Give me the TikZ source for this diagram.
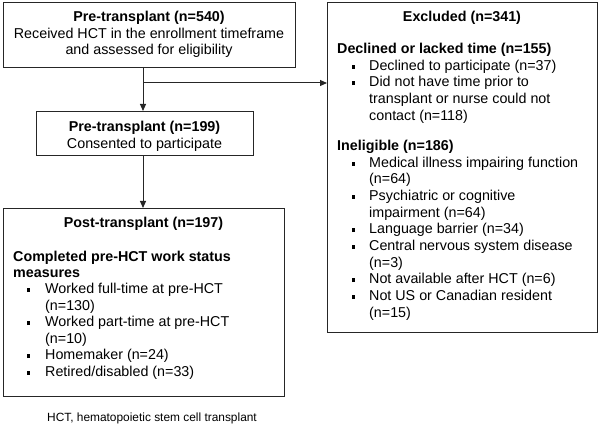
\documentclass[tikz,border=0pt]{standalone}
\usepackage{fontspec}
\setmainfont{Liberation Sans}
\usetikzlibrary{arrows.meta}
\newcommand\sqbul{\rule[1.8pt]{3.2pt}{3.8pt}}
\tikzset{
  box/.style={draw=black!85, line width=1.1pt, rectangle, inner sep=0pt, anchor=north west},
  txt/.style={inner sep=0pt, anchor=base west, font=\fontsize{14.3}{16.7}\selectfont},
  ctxt/.style={txt, anchor=base},
  bul/.style={inner sep=0pt, anchor=base west},
  arr/.style={line width=1pt, draw=black!85, -{Triangle[length=7pt,width=6pt]}},
}
\begin{document}
\begin{tikzpicture}[x=1pt,y=-1pt]
\useasboundingbox (0,0) rectangle (600,427);
% boxes
\node[box, minimum width=292pt, minimum height=65pt] (b1) at (3,2) {};
\node[box, minimum width=217pt, minimum height=44pt] (b2) at (36,111) {};
\node[box, minimum width=281pt, minimum height=188pt] (b3) at (3,208) {};
\node[box, minimum width=270pt, minimum height=330pt] (ex) at (327,2) {};
% box 1 text
\node[ctxt] (t1a) at (149,21.5) {\bfseries Pre-transplant (n=540)};
\node[ctxt] (t1b) at (149,38.2) {Received HCT in the enrollment timeframe};
\node[ctxt] (t1c) at (149,54.9) {and assessed for eligibility};
% box 2 text
\node[ctxt] (t2a) at (144.5,132) {\bfseries Pre-transplant (n=199)};
\node[ctxt] (t2b) at (144.5,148.5) {Consented to participate};
% box 3 text
\node[ctxt] (t3a) at (143.5,228) {\bfseries Post-transplant (n=197)};
\node[txt] (t3b) at (13,262) {\bfseries Completed pre-HCT work status};
\node[txt] (t3c) at (13,278) {\bfseries measures};
\foreach \n/\y in {p1/294, p2/327, p3/360, p4/376.5}
  \node[bul] (b\n) at (27,\y) {\sqbul};
\node[txt] (t3d) at (45,294) {Worked full-time at pre-HCT};
\node[txt] (t3e) at (45,310.5) {(n=130)};
\node[txt] (t3f) at (45,327) {Worked part-time at pre-HCT};
\node[txt] (t3g) at (45,343.5) {(n=10)};
\node[txt] (t3h) at (45,360) {Homemaker (n=24)};
\node[txt] (t3i) at (45,376.5) {Retired/disabled (n=33)};
% excluded text
\node[ctxt] (e0) at (462,22) {\bfseries Excluded (n=341)};
\node[txt] (e1) at (337,54) {\bfseries Declined or lacked time (n=155)};
\foreach \n/\y in {q1/70.5, q2/87, q3/167.5, q4/200.5, q5/234, q6/251, q7/284, q8/301}
  \node[bul] (b\n) at (352,\y) {\sqbul};
\node[txt] (e2) at (369,70.5) {Declined to participate (n=37)};
\node[txt] (e3) at (369,87) {Did not have time prior to};
\node[txt] (e4) at (369,103.5) {transplant or nurse could not};
\node[txt] (e5) at (369,120.5) {contact (n=118)};
\node[txt] (e6) at (337,151) {\bfseries Ineligible (n=186)};
\node[txt] (e7) at (369,167.5) {Medical illness impairing function};
\node[txt] (e8) at (369,184) {(n=64)};
\node[txt] (e9) at (369,200.5) {Psychiatric or cognitive};
\node[txt] (e10) at (369,217.5) {impairment (n=64)};
\node[txt] (e11) at (369,234) {Language barrier (n=34)};
\node[txt] (e12) at (369,251) {Central nervous system disease};
\node[txt] (e13) at (369,267.5) {(n=3)};
\node[txt] (e14) at (369,284) {Not available after HCT (n=6)};
\node[txt] (e15) at (369,301) {Not US or Canadian resident};
\node[txt] (e16) at (369,317.5) {(n=15)};
% footnote
\node[inner sep=0pt, anchor=base, font=\fontsize{11.9}{14}\selectfont] (fn) at (152,422) {HCT, hematopoietic stem cell transplant};
% connectors
\coordinate (s1) at (143,67);
\coordinate (j) at (143,83);
\draw[arr] (s1) -- (s1 |- b2.north);
\draw[arr] (j) -- (j -| ex.west);
\draw[arr] (b2.south -| s1) -- (b3.north -| s1);
\end{tikzpicture}
\end{document}
